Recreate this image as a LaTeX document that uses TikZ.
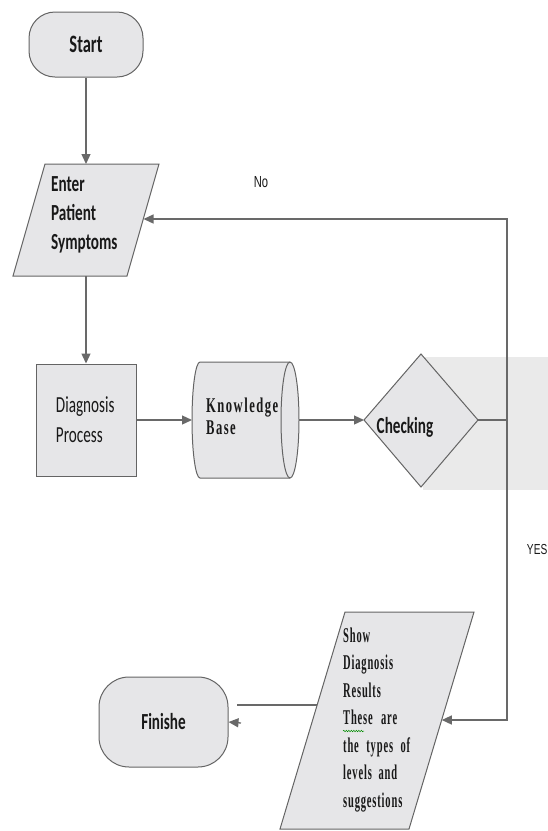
\documentclass[tikz,border=0pt]{standalone}
\usepackage{fontspec}
\usetikzlibrary{arrows.meta,decorations.pathmorphing}
\newfontfamily\flowsans[FakeStretch=0.66]{Carlito}
\newfontfamily\flowserif[FakeStretch=0.5,LetterSpace=4]{Liberation Serif}
\newfontfamily\kbserif[FakeStretch=0.6,LetterSpace=7]{Liberation Serif}
\newfontfamily\flownarrow[FakeStretch=0.7]{Liberation Sans}
\definecolor{shapefill}{RGB}{230,230,232}
\definecolor{shapeline}{RGB}{100,100,100}
\definecolor{connline}{RGB}{105,105,105}
\definecolor{bgpatch}{RGB}{234,234,234}
\definecolor{txt}{RGB}{25,25,25}
\tikzset{
  shapebox/.style={draw=shapeline, fill=shapefill, line width=1pt},
  conn/.style={draw=connline, line width=1.3pt},
  arrowtip/.style={-{Triangle[length=10pt,width=9pt]}},
  sanstext/.style={font=\flowsans\fontsize{23}{30}\selectfont, text=txt, align=left, inner sep=0pt},
  sansbold/.style={font=\flowsans\bfseries\fontsize{23}{29}\selectfont, text=txt, align=left, inner sep=0pt},
  seriftext/.style={font=\flowserif\bfseries\fontsize{21}{27.5}\selectfont, text=txt, align=left, inner sep=0pt},
  kbtext/.style={font=\kbserif\bfseries\fontsize{21}{22}\selectfont, text=txt, align=left, inner sep=0pt},
  smalllabel/.style={font=\flownarrow\fontsize{16}{18}\selectfont, text=txt, inner sep=0pt},
}
\begin{document}
\begin{tikzpicture}[x=1pt,y=-1pt]
\useasboundingbox (0,0) rectangle (548,831);
% background patch
\fill[bgpatch] (423,357) rectangle (548,490);

% Start
\node[shapebox, rounded corners=26pt, minimum width=114pt, minimum height=65pt, sansbold, font=\flowsans\bfseries\fontsize{25}{29}\selectfont, align=center] (start) at (86,44.5) {Start};

% Enter Patient Symptoms
\filldraw[shapebox] (45,164) -- (159,164) -- (127,276) -- (13,276) -- cycle;
\coordinate (entTop) at (86,164);
\coordinate (entBot) at (86,276);
\coordinate (entR) at (143.5,219);
\node[sansbold, anchor=west] (enter) at (51,215) {Enter\\Patient\\Symptoms};

% Diagnosis Process
\node[shapebox, minimum width=100pt, minimum height=112pt, text width=60pt, sanstext] (diag) at (86,420) {Diagnosis\\Process};

% Knowledge Base cylinder
\filldraw[shapebox] (200,362) -- (290,362) arc[start angle=-90,end angle=90,x radius=9,y radius=58] -- (200,478) arc[start angle=90,end angle=270,x radius=8,y radius=58] -- cycle;
\draw[draw=shapeline, line width=1pt] (290,362) arc[start angle=270,end angle=90,x radius=9,y radius=58];
\coordinate (kbW) at (192,420);
\coordinate (kbE) at (299,420);
\node[kbtext, anchor=west] (kb) at (206,416) {Knowledge\\Base};

% Checking diamond
\filldraw[shapebox] (364,420) -- (421,354) -- (478,420) -- (421,487) -- cycle;
\coordinate (chkW) at (364,420);
\coordinate (chkE) at (478,420);
\node[sansbold] (chk) at (405,427) {Checking};

% Show Diagnosis Results parallelogram
\filldraw[shapebox] (345,612) -- (474,612) -- (409,829) -- (280,829) -- cycle;
\coordinate (showR) at (441.8,720);
\coordinate (showL) at (317.3,705);
\node[seriftext, anchor=west] (show) at (343,720) {Show\\Diagnosis\\Results\\\makebox[54pt][s]{These are}\\\makebox[67pt][s]{the types of}\\\makebox[54pt][s]{levels and}\\suggestions};
\draw[green!55!black, line width=0.5pt, decorate, decoration={snake, amplitude=0.7pt, segment length=2.5pt}] (343,731) -- (364,731);

% Finishe
\node[shapebox, rounded corners=30pt, minimum width=129pt, minimum height=90pt, sansbold, align=center] (finish) at (163.5,722) {Finishe};

% connectors
\coordinate (j1) at (507,420);
\coordinate (finLine) at (237,705);
\coordinate (finTip) at (241,723);
\draw[conn, arrowtip] (start.south) -- (entTop);
\draw[conn, arrowtip] (entBot) -- (diag.north);
\draw[conn, arrowtip] (diag.east) -- (kbW);
\draw[conn, arrowtip] (kbE) -- (chkW);
\draw[conn] (chkE) -- (j1);
\draw[conn, arrowtip] (j1) |- (entR);
\draw[conn, arrowtip] (j1) |- (showR);
\draw[conn] (showL) -- (finLine);
\draw[conn, arrowtip] (finTip) -- (finish.east);

% labels
\node[smalllabel] (no) at (261,182) {No};
\node[smalllabel, font=\flownarrow\fontsize{14.5}{16}\selectfont, anchor=east] (yes) at (547.5,549) {YES};
\end{tikzpicture}
\end{document}
